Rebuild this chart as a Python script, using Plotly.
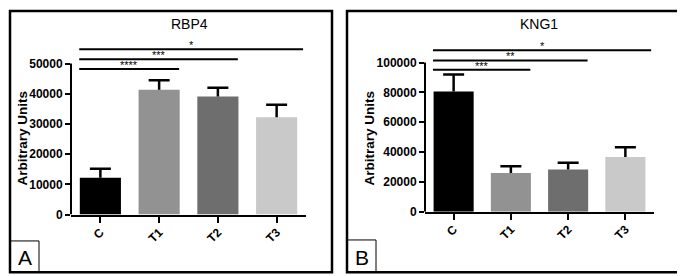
import plotly.graph_objects as go

W, H = 685, 276

categories = ["C", "T1", "T2", "T3"]
bar_colors = ["#000000", "#929292", "#6e6e6e", "#c9c9c9"]

rbp4_values = [12200, 41300, 39100, 32200]
rbp4_err = [3000, 3200, 2900, 4200]
rbp4_ticks = [0, 10000, 20000, 30000, 40000, 50000]
rbp4_sig = [("****", 1, 48200), ("***", 2, 51400), ("*", 3, 54700)]

kng1_values = [80600, 25900, 28300, 36600]
kng1_err = [11400, 4600, 4600, 6700]
kng1_ticks = [0, 20000, 40000, 60000, 80000, 100000]
kng1_sig = [("***", 1, 95200), ("**", 2, 101400), ("*", 3, 108300)]

FONT = "Liberation Sans, Arial, sans-serif"

def fx(px):
    return px / W

def fy(py):
    return 1 - py / H

fig = go.Figure()

panels = [
    dict(name="RBP4", letter="A", vals=rbp4_values, err=rbp4_err, ticks=rbp4_ticks, sig=rbp4_sig,
         xl=63, xr=298, y0=212, ytop_px=57, ytop_val=50000, dom_top=28,
         box=(2, 3, 324, 271), lbox=(2, 239, 31, 271), title_x=181, yt_x=15,
         xa="x", ya="y"),
    dict(name="KNG1", letter="B", vals=kng1_values, err=kng1_err, ticks=kng1_ticks, sig=kng1_sig,
         xl=417, xr=646, y0=209, ytop_px=56, ytop_val=100000, dom_top=28,
         box=(339, 3, 681, 271), lbox=(339, 238, 368, 271), title_x=531, yt_x=362,
         xa="x2", ya="y2"),
]

shapes = []
annotations = []
layout_axes = {}

for i, p in enumerate(panels):
    scale = (p["y0"] - p["ytop_px"]) / p["ytop_val"]
    ymax = (p["y0"] - p["dom_top"]) / scale
    fig.add_trace(go.Bar(
        x=categories, y=p["vals"], width=0.7,
        marker=dict(color=bar_colors, line=dict(width=0)),
        error_y=dict(type="data", array=p["err"], arrayminus=[0] * 4, symmetric=False,
                     color="#000000", thickness=2.5, width=0),
        xaxis=p["xa"], yaxis=p["ya"], showlegend=False,
    ))
    fig.add_trace(go.Scatter(
        x=categories, y=[v + e for v, e in zip(p["vals"], p["err"])], mode="markers",
        marker=dict(symbol="line-ew", size=15, line=dict(color="#000", width=2.5)),
        xaxis=p["xa"], yaxis=p["ya"], showlegend=False, hoverinfo="skip",
    ))
    xk = "xaxis" if i == 0 else "xaxis2"
    yk = "yaxis" if i == 0 else "yaxis2"
    layout_axes[xk] = dict(
        domain=[fx(p["xl"]), fx(p["xr"])], anchor=p["ya"], type="category",
        range=[-0.5, 3.5], showline=True, linewidth=2, linecolor="#000",
        tickvals=categories, ticktext=["<b>%s</b>" % c for c in categories],
        ticks="outside", ticklen=6, tickwidth=2, tickcolor="#000", tickangle=-45,
        ticklabelstandoff=-2,
        tickfont=dict(family=FONT, size=12, color="#000"),
        showgrid=False, zeroline=False, fixedrange=True,
    )
    layout_axes[yk] = dict(
        domain=[fy(p["y0"]), fy(p["dom_top"])], anchor=p["xa"], range=[0, ymax],
        tickvals=p["ticks"], ticktext=["<b>%d</b>" % t for t in p["ticks"]],
        showline=False, ticks="outside", ticklen=5, tickwidth=2, tickcolor="#000",
        tickfont=dict(family=FONT, size=12, color="#000"),
        showgrid=False, zeroline=False, fixedrange=True,
    )
    shapes.append(dict(type="line", xref=p["xa"] + " domain", yref=p["ya"],
                       x0=0, x1=0, y0=0, y1=p["ticks"][-1],
                       line=dict(color="#000", width=2)))
    for stars, j, yv in p["sig"]:
        x_end = j + 0.34 if j < 3 else j + 0.45
        shapes.append(dict(type="line", xref=p["xa"], yref=p["ya"],
                           x0=-0.36, x1=x_end, y0=yv, y1=yv,
                           line=dict(color="#000", width=2)))
        annotations.append(dict(text=stars, xref=p["xa"], yref=p["ya"],
                                x=(-0.36 + x_end) / 2, y=yv, yanchor="bottom",
                                showarrow=False, yshift=-4,
                                font=dict(family=FONT, size=11, color="#000000")))
    bx0, by0, bx1, by1 = p["box"]
    shapes.append(dict(type="rect", xref="paper", yref="paper",
                       x0=fx(bx0), x1=fx(bx1), y0=fy(by1), y1=fy(by0),
                       line=dict(color="#000", width=2.5)))
    lx0, ly0, lx1, ly1 = p["lbox"]
    shapes.append(dict(type="rect", xref="paper", yref="paper",
                       x0=fx(lx0), x1=fx(lx1), y0=fy(ly1), y1=fy(ly0),
                       line=dict(color="#000", width=1)))
    annotations.append(dict(text=p["letter"], xref="paper", yref="paper",
                            x=fx((lx0 + lx1) / 2), y=fy((ly0 + ly1) / 2 + 1),
                            showarrow=False, xanchor="center", yanchor="middle",
                            font=dict(family=FONT, size=21, color="#000")))
    annotations.append(dict(text=p["name"], xref="paper", yref="paper",
                            x=fx(p["title_x"]), y=fy(16), showarrow=False,
                            xanchor="center", yanchor="middle",
                            font=dict(family=FONT, size=14, color="#000")))
    annotations.append(dict(text="<b>Arbitrary Units</b>", xref="paper", yref="paper",
                            x=fx(p["yt_x"]), y=fy(134), showarrow=False, textangle=-90,
                            xanchor="center", yanchor="middle",
                            font=dict(family=FONT, size=13.5, color="#000")))

fig.update_layout(
    width=W, height=H, margin=dict(l=0, r=0, t=0, b=0),
    paper_bgcolor="white", plot_bgcolor="white",
    shapes=shapes, annotations=annotations, showlegend=False,
    **layout_axes,
)

fig.write_html("out.html")
